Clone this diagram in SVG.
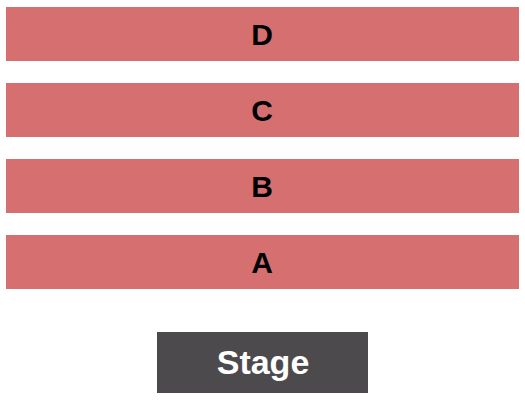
<svg xmlns="http://www.w3.org/2000/svg" width="525" height="400" viewBox="0 0 525 400">
<style>
.row{fill:#d67070}
.lbl{font-family:"Liberation Sans",Arial,sans-serif;font-weight:bold;font-size:30px;fill:#000;text-anchor:middle}
.stg{fill:#4d4a4d}
.stl{font-family:"Liberation Sans",Arial,sans-serif;font-weight:bold;font-size:34px;fill:#fff;text-anchor:middle}
</style>
<rect width="525" height="400" fill="#fff"/>
<g id="row-D"><rect class="row" x="6" y="7" width="513" height="54"/><text class="lbl" x="262" y="45">D</text></g>
<g id="row-C"><rect class="row" x="6" y="83" width="513" height="54"/><text class="lbl" x="262" y="121">C</text></g>
<g id="row-B"><rect class="row" x="6" y="159" width="513" height="54"/><text class="lbl" x="262" y="197">B</text></g>
<g id="row-A"><rect class="row" x="6" y="235" width="513" height="54"/><text class="lbl" x="262" y="273">A</text></g>
<g id="stage"><rect class="stg" x="157" y="332" width="211" height="61"/><text class="stl" x="263" y="374">Stage</text></g>
<g id="connectors"/>
</svg>
